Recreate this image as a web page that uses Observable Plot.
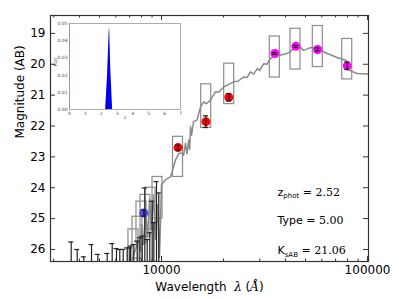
<!DOCTYPE html>
<html><head><meta charset="utf-8">
<script src="https://cdn.jsdelivr.net/npm/d3@7"></script>
<script src="https://cdn.jsdelivr.net/npm/@observablehq/plot@0.6"></script>
<style>
body{margin:0;background:#fff;}
#wrap{position:relative;width:399px;height:299px;overflow:hidden;}
#wrap svg{position:absolute;}
</style></head><body><div id="wrap"></div>
<script>
// ---- data ----
const sedLam = [7071,7480,7700,7910,7995,8177,8362,8551,8745,8943,9145,9352,9563,9779,10000,10460,11060,11460,11700,12170,12600,12800,13080,13300,13560,13700,13830,14000,14300,14870,15470,16020,16500,17300,18280,19000,20070,22400,23500,25100,26000,27030,28000,29180,30000,31370,32500,33790,35700,38000,40700,42000,43800,46300,48900,52800,56900,63800,71200,78200,79500,81200,89100,102000];
const sedMag = [26.5,26.0,25.68,26.06,25.19,25.84,24.71,25.61,24.39,25.35,24.23,25.68,24.55,26.26,23.90,23.74,23.65,23.31,23.10,22.88,22.88,22.95,22.56,22.9,22.45,22.75,22.02,22.3,21.86,21.81,21.38,21.22,21.28,21.16,20.89,20.9,20.73,20.57,20.55,20.41,20.43,20.25,20.32,20.14,20.2,19.98,20.0,19.82,19.68,19.7,19.65,19.6,19.49,19.39,19.55,19.46,19.49,19.65,19.78,19.87,19.95,20.19,20.30,20.32];

const ptLam = [12030,16420,21230,35500,44900,57200,79700];
const ptMag = [22.70,21.86,21.07,19.65,19.42,19.52,20.05];
const ptErr = [0.08,0.19,0.12,0.03,0.03,0.05,0.12];
const ptColor = ["#ff0000","#ff0000","#ff0000","#ff00ff","#ff00ff","#ff00ff","#ff00ff"];

const blueLam = [8200];
const blueMag = [24.82];
const blueErr = [0.10];

const boxLam = [12026,16480,21310,35480,44720,57370,79700,7310,7646,7995,8362,8845,9564];
const boxTop = [22.35,20.65,19.98,19.10,18.85,18.76,19.18,25.35,24.94,24.45,24.23,24.00,23.65];
const boxBot = [23.65,22.06,21.29,20.43,20.17,20.09,20.49,26.70,26.30,25.80,25.58,25.35,25.00];

const limLam = [3645,3898,4196,4574,4908,5450,5763,6047,6274,6517,6815,7016,7071,7337,7621,7847,8060,8297,8522,8772,9012,9176,9456,9700];
const limTop = [25.76,26.00,26.24,25.84,26.16,26.13,25.81,25.97,26.00,26.00,25.95,25.95,25.89,25.84,25.73,25.62,25.57,24.01,25.68,25.46,24.44,25.13,23.80,24.17];

const xMajor = [10000,100000];
const xMinor = [3000,4000,5000,6000,7000,8000,9000,20000,30000,40000,50000,60000,70000,80000,90000];
const yTicks = [19,20,21,22,23,24,25,26];

const annotMain = ["z","Type","K"];
const annotSub = ["phot","","sAB"];
const annotValue = ["2.52","5.00","21.06"];
const annotMag = [24.26,25.16,26.16];

const pzZ = [2.28,2.40,2.50,2.53,2.60,2.72];
const pzP = [0,0.020,0.045,0.048,0.024,0];
const insetXTicks = [0,1,2,3,4,5,6,7];
const insetYTicks = [0,0.01,0.02,0.03,0.04,0.05];

// ---- build ----
const xDom = [2892, 101100];
const yDom = [26.39, 18.42];
const pxDex = 1/206, pxMag = 1/31;
const f = (px) => Math.pow(10, px*pxDex);
const pts = ptLam.map((l,i)=>({l, m: ptMag[i], e: ptErr[i], c: ptColor[i]}));
const blue = blueLam.map((l,i)=>({l, m: blueMag[i], e: blueErr[i]}));
const boxes = boxLam.map((l,i)=>({x1: l/f(5), x2: l*f(5), y1: boxTop[i], y2: boxBot[i]}));
const lims = limLam.map((l,i)=>({l, t: limTop[i]}));
const sed = sedLam.map((l,i)=>({l, m: sedMag[i]}));
const annot = annotMain.map((t,i)=>({t, m: annotMag[i], i}));
const annotLam = 36560;
const ink = "#222";
const capF = f(2.5);

const main = Plot.plot({
  width: 399, height: 299,
  marginLeft: 50, marginRight: 31, marginTop: 15, marginBottom: 38,
  style: {fontFamily: "DejaVu Sans", fontSize: "12px", color: "#000", background: "transparent"},
  x: {type: "log", domain: xDom},
  y: {domain: yDom},
  marks: [
    Plot.rect(boxes, {x1: "x1", x2: "x2", y1: "y1", y2: "y2", stroke: "#8c8c8c", strokeWidth: 1.2, fill: "none", clip: true}),
    Plot.line(sed, {x: "l", y: "m", stroke: "#8a8a8a", strokeWidth: 1.5, clip: true}),
    Plot.dot(blue, {x: "l", y: "m", r: 4.5, fill: "#3030ff", fillOpacity: 0.85}),
    Plot.dot(pts, {x: "l", y: "m", r: 4.5, fill: "c"}),
    Plot.ruleX(lims, {x: "l", y1: "t", y2: 27, stroke: ink, strokeWidth: 1.2, clip: true}),
    Plot.ruleY(lims, {y: "t", x1: d=>d.l/capF, x2: d=>d.l*capF, stroke: ink, strokeWidth: 1.2}),
    Plot.ruleX(pts.concat(blue), {x: "l", y1: d=>d.m-d.e, y2: d=>d.m+d.e, stroke: ink, strokeWidth: 1.3}),
    Plot.ruleY(pts.concat(blue), {y: d=>d.m-d.e, x1: d=>d.l/capF, x2: d=>d.l*capF, stroke: ink, strokeWidth: 1.2}),
    Plot.ruleY(pts.concat(blue), {y: d=>d.m+d.e, x1: d=>d.l/capF, x2: d=>d.l*capF, stroke: ink, strokeWidth: 1.2}),
    Plot.ruleX(xMajor, {x: d=>d, y1: yDom[0], y2: yDom[0]-5*pxMag, stroke: "#333"}),
    Plot.ruleX(xMajor, {x: d=>d, y1: yDom[1], y2: yDom[1]+5*pxMag, stroke: "#333"}),
    Plot.ruleX(xMinor, {x: d=>d, y1: yDom[0], y2: yDom[0]-2.5*pxMag, stroke: "#333"}),
    Plot.ruleX(xMinor, {x: d=>d, y1: yDom[1], y2: yDom[1]+2.5*pxMag, stroke: "#333"}),
    Plot.ruleY(yTicks, {y: d=>d, x1: xDom[0], x2: xDom[0]*f(5), stroke: "#333"}),
    Plot.ruleY(yTicks, {y: d=>d, x1: xDom[1], x2: xDom[1]/f(5), stroke: "#333"}),
    Plot.frame({stroke: "#333", strokeWidth: 1.2}),
    Plot.axisY(yTicks, {tickSize: 0, tickPadding: 5, label: null, fontSize: 12}),
    Plot.axisX(xMajor, {tickFormat: d=>String(d), tickSize: 0, tickPadding: 4, label: null, fontSize: 12}),
    Plot.text(["Wavelength"], {frameAnchor: "bottom", dy: 26, fontSize: 12, lineAnchor: "middle"}),
    Plot.text(["Magnitude (AB)"], {frameAnchor: "left", dx: -30, rotate: -90, fontSize: 12, lineAnchor: "middle"}),
    Plot.text(annot, {x: ()=>annotLam, y: "m", text: "t", textAnchor: "start", lineAnchor: "bottom", fontSize: 11})
  ]
});

// rich text for annotations and the x-axis label
d3.select(main).selectAll("text").each(function() {
  const el = d3.select(this);
  if (this.textContent === "Wavelength") {
    el.text(null);
    el.append("tspan").text("Wavelength  ");
    el.append("tspan").attr("font-family", "DejaVu Serif").attr("font-style", "italic").text("λ");
    el.append("tspan").text(" (");
    el.append("tspan").attr("font-family", "DejaVu Serif").attr("font-style", "italic").text("Å");
    el.append("tspan").text(")");
    return;
  }
  const k = annotMain.indexOf(this.textContent);
  if (k < 0) return;
  el.text(null);
  el.append("tspan").text(annotMain[k]);
  if (annotSub[k]) el.append("tspan").attr("font-size", 7).attr("dy", 2.5).text(annotSub[k]);
  el.append("tspan").attr("font-family", "DejaVu Serif").attr("font-size", 11)
    .attr("dy", annotSub[k] ? -2.5 : 0).text(" = " + annotValue[k]);
});

const pz = pzZ.map((z,i)=>({z, p: pzP[i]}));
const inset = Plot.plot({
  width: 135, height: 104,
  marginLeft: 19, marginRight: 5, marginTop: 6, marginBottom: 12,
  style: {fontFamily: "DejaVu Sans", fontSize: "4.5px", color: "#444", background: "transparent"},
  x: {domain: [0, 7]},
  y: {domain: [0, 0.05]},
  marks: [
    Plot.areaY(pz, {x: "z", y: "p", fill: "#0000ee"}),
    Plot.ruleX([0], {stroke: "#e87070", strokeWidth: 1}),
    Plot.frame({stroke: "#999", strokeWidth: 0.8}),
    Plot.axisX(insetXTicks, {tickSize: 0, tickPadding: 2, tickFormat: d=>String(d), label: null, fontSize: 4.5}),
    Plot.axisY(insetYTicks, {tickFormat: d3.format(".2f"), tickSize: 0, tickPadding: 2, label: null, fontSize: 4.5}),
    Plot.text(["z"], {frameAnchor: "bottom", dy: 9, fontSize: 4.5}),
    Plot.text(["P(z)"], {frameAnchor: "left", dx: -14, rotate: -90, fontSize: 4.5})
  ]
});

const wrap = document.getElementById("wrap");
main.style.left = "0px"; main.style.top = "0px";
inset.style.left = "50px"; inset.style.top = "17px";
wrap.appendChild(main);
wrap.appendChild(inset);
</script></body></html>
